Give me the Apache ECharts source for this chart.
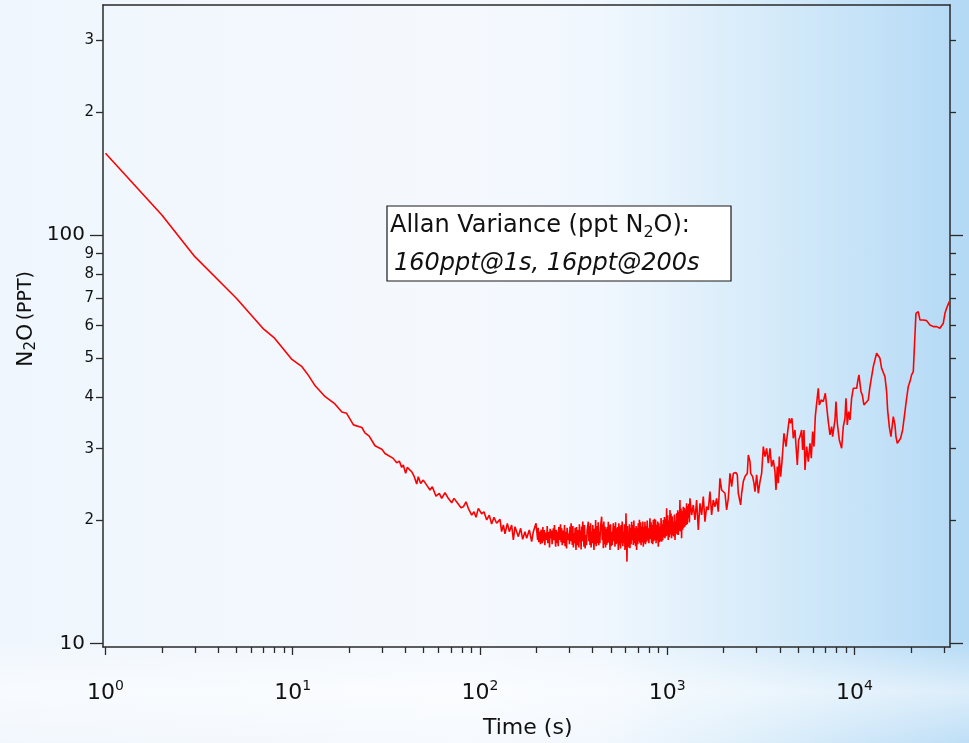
<!DOCTYPE html>
<html>
<head>
<meta charset="utf-8">
<script src="https://cdn.jsdelivr.net/npm/echarts@6/dist/echarts.min.js"></script>
<style>
html,body{margin:0;padding:0;}
#main{width:969px;height:743px;
background:
 linear-gradient(180deg, rgba(255,255,255,0) 0%, rgba(255,255,255,0) 86%, rgba(255,255,255,0.55) 93%, rgba(255,255,255,0.15) 100%),
 linear-gradient(90deg, #eff6fd 0%, #f5f9fe 48%, #f0f7fe 62%, #d8ecfa 78%, #b3d9f5 100%);}
</style>
</head>
<body>
<div id="main"></div>
<script>
// ---- data (time in s, Allan deviation in ppt) ----
const decayPoints = [
[1,158.5],[2,111.9],[3,88.5],[5,70.0],[7,58.8],[8,55.9],[9.9,49.6],[11.2,47.6],[12.1,45.4],[13.1,42.9],[14.9,40.2],
[16.8,38.6],[18.3,36.9],[19.4,36.6],[21.1,34.3],[23.4,33.8],[24.3,32.8],[25.6,32.2],[27.5,30.5],[29.9,29.9],[31.1,29.2],[34.4,28.4],
[35.90,27.70],[37.07,27.97],[38.18,26.99],[38.94,27.35],[40.10,26.10],[40.90,26.99],[43.17,26.34],[44.57,25.61],[45.91,24.57],
[46.82,25.61],[48.23,24.66],[49.79,25.13],[51.92,24.43],[54.07,23.76],[55.62,24.20],[58.21,22.96],[60.62,23.31],[62.44,22.67],
[65.02,23.40],[67.72,22.67],[70.61,22.11],[72.64,22.67],[75.65,22.11],[79.19,21.50],[81.46,21.62],[84.21,22.23],[86.62,21.43],
[90.32,20.63],[92.92,21.02],[95.23,20.37],[97.96,21.43],[102.1,20.78],[105.0,21.02],[108.6,20.07],[112.1,20.63],[115.4,19.62],
[118.8,20.37],[122.7,19.70]
];
const floorPoints = [
[127.9,20.14],[130.5,18.79],[133.3,19.51],[136.0,18.55],[140.0,19.69],[143.5,18.79],[147.6,19.51],[150.7,17.93],[153.8,19.33],
[157.0,18.79],[160.2,18.27],[164.9,19.15],[169.0,18.00],[173.9,18.79],[177.5,18.10],[183.4,18.97],[188.8,17.76],[192.7,18.79],
[199.1,19.69],[203.2,17.93],
[204.6,19.2],[206.0,17.7],[209.1,18.79],[210.5,17.5],[211.9,19.0],[215.2,17.60],[216.7,19.3],[218.2,17.8],[220.6,18.97],[222.1,17.4],
[223.6,18.7],[227.0,17.93],[228.6,19.4],[230.1,17.6],[233.6,18.79],[235.2,17.2],[236.8,19.1],[239.4,18.10],[241.1,18.9],[242.7,17.5],
[246.4,19.15],[248.1,17.9],[249.8,19.5],[253.6,17.27],[255.4,19.0],[257.1,17.6],[259.9,18.79],[261.7,17.3],[263.5,19.3],[267.4,17.93],
[269.2,19.6],[271.1,17.7],[273.0,19.15],[274.9,17.4],[276.8,18.9],[280.9,17.60],[282.8,19.5],[284.8,17.3],[287.9,18.79],[289.9,17.1],
[291.9,19.2],[296.3,17.93],[298.3,18.6],[300.4,17.5],[302.4,19.33],[304.5,17.8],[306.6,19.7],[311.2,17.43],[313.3,19.4],[315.4,17.2],
[317.7,18.62],[319.9,17.6],[322.1,19.2],[325.6,16.95],[327.8,19.3],[330.1,17.4],[335.0,18.97],[337.3,17.2],[339.6,19.6],[342.0,17.76],
[344.4,18.9],[346.7,17.0],[349.1,19.33],[351.5,17.8],[353.9,19.9],[359.2,17.27],[361.7,19.5],[364.2,17.1],[368.2,18.44],[370.7,17.4],
[373.3,18.9],[378.9,19.88],[381.5,17.8],[384.1,19.4],[386.7,17.43],[389.4,19.7],[392.1,17.2],[394.7,18.79],[397.4,17.6],[400.2,19.5],
[406.2,16.95],[409.0,19.1],[411.8,17.5],[414.6,20.07],[417.5,17.3],[420.3,19.4],[424.9,17.60],[427.8,19.8],[430.8,17.4],[433.7,18.79],
[436.7,17.6],[439.7,19.2],[446.4,20.45],[449.5,17.9],[452.6,19.6],[455.6,17.11],[458.7,19.9],[461.9,17.5],[465.0,19.33],[468.2,17.2],
[471.4,19.1],[474.7,17.43],[478.0,19.3],[481.3,17.6],[484.5,19.88],[487.8,17.7],[491.2,19.5],[494.5,16.95],[497.9,19.6],[501.3,17.3],
[504.8,18.79],[508.3,17.4],[511.8,18.6],[515.2,19.69],[518.8,17.8],[522.3,19.4],[525.9,17.27],[529.5,19.8],[533.1,17.5],[536.8,19.15],
[540.5,17.6],[544.2,19.3],[547.9,16.95],[551.7,19.7],[555.4,17.4],[559.2,19.33],[563.1,17.1],[566.9,19.5],[570.8,17.60],[574.7,19.9],
[578.6,17.3],[582.6,18.79],[586.6,17.6],[590.7,19.6],[594.7,16.95],[597.1,18.6],[599.5,17.8],[602.0,20.84],[609.5,15.87],[612.9,19.4],
[616.2,17.3],[619.6,18.79],[623.9,17.2],[628.1,19.6],[632.4,17.11],[636.8,19.2],[641.1,17.5],[645.5,19.88],[650.0,17.9],[654.4,19.5],
[658.8,17.43],[663.3,20.0],[667.9,17.6],[672.5,19.15],[677.1,17.3],[681.7,19.4],[686.4,16.95],[691.2,19.2],[695.9,17.5],[700.6,19.69],
[705.5,17.8],[710.3,20.1],[715.1,17.60],[720.0,19.8],[725.0,17.4],[729.9,19.33],[735.0,17.7],[740.0,19.9],[745.0,17.27],[750.2,19.3],
[755.3,17.6],[760.4,19.88],[765.7,17.5],[771.0,19.4],[776.2,17.76],[781.6,20.0],[786.9,17.9],[792.2,19.15],[797.7,17.6],[803.2,18.9],
[808.6,20.26],[814.2,18.0],[819.8,19.8],[825.4,17.60],[831.1,19.5],[836.8,17.5],[842.5,20.07],[848.3,17.8],[854.1,20.2],[859.9,17.93],
[865.8,20.1],[871.7,17.6],[877.7,19.51],[883.7,17.9],[889.8,19.9],[895.9,17.27],[902.1,19.7],[908.3,17.7],[914.4,19.33],[920.7,17.8],
[927.0,20.3],[933.3,17.76],[939.7,19.6],[946.2,17.9],[952.7,20.07],[959.3,18.2],[965.8,20.4],[972.4,18.10],[979.1,20.2],[985.8,18.3],
[992.5,21.43],[999.3,18.4],[1006,20.6],[1013,17.93],[1020,20.0],[1027,18.2],[1034,21.23],[1041,18.5],[1048,20.8],[1055,18.10],
[1062,20.5],[1070,18.4],[1077,19.88],[1084,18.3],[1092,20.7],[1100,17.93],[1108,19.9],[1115,18.6],[1122,20.84],[1130,18.5],
[1138,21.2],[1146,18.44],[1154,21.0],[1161,18.9],[1169,22.46],[1177,18.8],[1185,21.4],[1193,18.10],[1201,21.1],[1210,19.0],
[1218,21.63],[1226,19.2],[1235,21.5],[1243,19.33],[1252,21.3],[1260,19.5],[1269,22.04],[1278,19.6],[1286,21.7],[1295,20.26],
[1304,22.0],[1313,19.8],[1322,22.67],[1350,20.64],[1377,21.84],[1406,20.07],[1435,22.46],[1465,18.97],[1495,22.04],[1526,20.64],
[1558,22.89],[1590,19.88],[1623,21.63],[1656,21.23],[1691,23.54],[1726,20.64],[1761,22.46],[1798,21.63],[1835,22.67],[1873,21.03],
[1912,25.38]
];
const risePoints = [
[1952,23.77],[2034,23.33],[2076,21.24],[2119,22.68],[2163,26.11],[2208,24.22],[2254,26.11],[2329,26.21],[2367,25.87],[2396,23.33],
[2466,21.85],[2497,23.33],[2548,24.92],[2601,25.63],[2677,26.11],[2710,28.95],[2766,27.89],[2789,26.11],[2858,25.63],[2905,24.68],
[2941,23.55],[3002,25.87],[3064,23.33],[3128,24.92],[3193,26.11],[3259,30.35],[3326,28.68],[3395,30.06],[3465,27.63],[3537,30.06],
[3610,27.11],[3685,28.15],[3761,26.36],[3808,23.77],[3871,27.11],[3919,24.68],[3967,28.68],[4033,25.63],[4099,27.89],[4202,32.71],
[4306,30.35],[4377,32.41],[4486,35.60],[4560,34.61],[4636,35.60],[4712,31.81],[4810,33.33],[4869,30.63],[4950,27.37],[5032,31.51],
[5115,32.11],[5221,33.33],[5285,29.78],[5373,33.33],[5439,26.61],[5552,30.35],[5667,27.89],[5784,30.92],[5880,28.42],[5977,33.02],
[6075,30.35],[6176,35.94],[6278,38.74],[6408,42.16],[6487,38.38],[6648,39.48],[6814,39.11],[6984,40.99],[7157,41.37],[7246,34.94],
[7396,32.41],[7549,33.97],[7642,32.11],[7865,35.27],[7962,39.11],[8094,34.61],[8295,31.51],[8536,30.06],[8713,33.97],[8893,35.60],
[9004,39.85],[9153,34.29],[9304,36.96],[9457,35.27],[9653,39.85],[9852,42.16],[10056,41.76],[10265,42.16],[10435,44.18],[10564,45.45],
[10694,45.88],[10827,41.37],[11006,40.60],[11234,38.38],[11513,38.38],[11848,39.48],[12093,42.56],[12343,45.02],[12599,47.63],[12859,49.46],
[13126,51.35],[13397,51.35],[13674,49.92],[13958,47.19],[14247,46.75],[14542,45.02],[14843,41.37],[15027,37.31],[15338,33.97],[15656,32.11],
[15980,32.11],[16112,35.94],[16445,34.29],[16649,32.11],[16924,30.92],[17345,31.21],[17632,31.81],[18070,33.33],[18597,36.96],[18982,39.85],
[19376,42.56],[19776,43.77],[20186,45.45],[20604,46.31],[21031,46.75],[21291,64.33],[21911,64.94],[22365,61.96],[22828,62.54],[23301,61.96],
[24274,61.72],[25290,60.24],[26347,59.67],[27450,59.67],[28597,59.11],[29189,59.67],[29794,60.80],[30411,64.33],[31040,66.17],[32075,68.70]
];

// ---- axes ----
const xRange = [0.97, 32360];
const yRange = [9.81, 365.5];
const xMajorTicks = [1, 10, 100, 1000, 10000];
const xMajorExponents = ['0', '1', '2', '3', '4'];
const xMinorTicks = [2,3,4,5,6,7,8,9, 20,30,40,50,60,70,80,90, 200,300,400,500,600,700,800,900,
  2000,3000,4000,5000,6000,7000,8000,9000, 20000,30000];
const yMajorTicks = [10, 100];
const yMajorLabels = ['10', '100'];
const yMinorTicks = [20,30,40,50,60,70,80,90,200,300];
const yMinorLabels = ['2','3','4','5','6','7','8','9','2','3'];

const xTitle = 'Time (s)';
const noteLine1 = ['Allan Variance (ppt N', '2', 'O):'];
const noteLine2 = '160ppt@1s, 16ppt@200s';

const FONT = 'DejaVu Sans';
const FRAME = '#2a2a2a';

function idx(arr, v) {
  for (let i = 0; i < arr.length; i++) if (Math.abs(arr[i] - v) / arr[i] < 1e-6) return i;
  return -1;
}

const seriesData = decayPoints.concat(floorPoints, risePoints);

const chart = echarts.init(document.getElementById('main'), null, {renderer: 'canvas'});
const lineStyleAxis = {color: FRAME, width: 1.5};
const baseX = {type: 'log', logBase: 10, min: xRange[0], max: xRange[1], splitLine: {show: false}};
const baseY = {type: 'log', logBase: 10, min: yRange[0], max: yRange[1], splitLine: {show: false}};

chart.setOption({
  animation: false,
  backgroundColor: 'transparent',
  grid: {left: 103, right: 19, top: 5, bottom: 96, containLabel: false},
  xAxis: [
    Object.assign({}, baseX, {
      position: 'bottom',
      axisLine: {show: true, lineStyle: lineStyleAxis},
      axisTick: {show: true, customValues: xMajorTicks, length: 8, lineStyle: {color: FRAME, width: 1.3}},
      axisLabel: {
        show: true, customValues: xMajorTicks, margin: 32, color: '#111',
        formatter: function (v) { const i = idx(xMajorTicks, v); return '{b|10}{s|' + xMajorExponents[i] + '}'; },
        rich: {
          b: {fontFamily: FONT, fontSize: 22, lineHeight: 28, color: '#111'},
          s: {fontFamily: FONT, fontSize: 14, lineHeight: 10, verticalAlign: 'top', color: '#111'}
        }
      }
    }),
    Object.assign({}, baseX, {
      position: 'bottom',
      axisLine: {show: false},
      axisTick: {show: true, customValues: xMinorTicks, length: 6, lineStyle: {color: FRAME, width: 1.3}},
      axisLabel: {show: false}
    }),
    Object.assign({}, baseX, {
      position: 'top',
      axisLine: {show: true, lineStyle: lineStyleAxis},
      axisTick: {show: false},
      axisLabel: {show: false}
    })
  ],
  yAxis: [
    Object.assign({}, baseY, {
      position: 'left',
      axisLine: {show: true, lineStyle: lineStyleAxis},
      axisTick: {show: true, customValues: yMajorTicks, length: 13, lineStyle: {color: FRAME, width: 1.3}},
      axisLabel: {
        show: true, customValues: yMajorTicks, margin: 18, color: '#111',
        fontFamily: FONT, fontSize: 20,
        formatter: function (v) { return yMajorLabels[idx(yMajorTicks, v)]; }
      }
    }),
    Object.assign({}, baseY, {
      position: 'left',
      axisLine: {show: false},
      axisTick: {show: true, customValues: yMinorTicks, length: 7, lineStyle: {color: FRAME, width: 1.3}},
      axisLabel: {
        show: true, customValues: yMinorTicks, margin: 9, color: '#111',
        fontFamily: FONT, fontSize: 15,
        formatter: function (v) { return yMinorLabels[idx(yMinorTicks, v)]; }
      }
    }),
    Object.assign({}, baseY, {
      position: 'right',
      axisLine: {show: true, lineStyle: lineStyleAxis},
      axisTick: {show: true, customValues: yMajorTicks, length: 13, lineStyle: {color: FRAME, width: 1.3}},
      axisLabel: {show: false}
    }),
    Object.assign({}, baseY, {
      position: 'right',
      axisLine: {show: false},
      axisTick: {show: true, customValues: yMinorTicks, length: 6, lineStyle: {color: FRAME, width: 1.3}},
      axisLabel: {show: false}
    })
  ],
  series: [{
    type: 'line',
    xAxisIndex: 0,
    yAxisIndex: 0,
    data: seriesData,
    showSymbol: false,
    symbol: 'none',
    smooth: false,
    lineStyle: {color: '#ff0000', width: 1.6},
    z: 5
  }],
  graphic: [
    {
      type: 'text', left: 483, top: 717,
      style: {text: xTitle, fontFamily: FONT, fontSize: 22, fill: '#111'}
    },
    {
      type: 'text', x: 26, y: 319, rotation: Math.PI / 2,
      style: {
        text: '{a|N}{s|2}{a|O} {b|(PPT)}',
        align: 'center', verticalAlign: 'middle', textAlign: 'center', textVerticalAlign: 'middle',
        rich: {
          a: {fontFamily: FONT, fontSize: 22, lineHeight: 26, fill: '#111', color: '#111'},
          s: {fontFamily: FONT, fontSize: 15, lineHeight: 14, verticalAlign: 'bottom', fill: '#111', color: '#111'},
          b: {fontFamily: FONT, fontSize: 19, lineHeight: 26, fill: '#111', color: '#111'}
        }
      }
    },
    {
      type: 'rect', shape: {x: 387, y: 206, width: 344, height: 75},
      style: {fill: '#ffffff', stroke: '#1a1a1a', lineWidth: 1.2}, z: 10
    },
    {
      type: 'text', x: 390, y: 211, z: 11,
      style: {
        text: '{a|' + noteLine1[0] + '}{s|' + noteLine1[1] + '}{a|' + noteLine1[2] + '}',
        rich: {
          a: {fontFamily: FONT, fontSize: 24, lineHeight: 30, fill: '#111', color: '#111'},
          s: {fontFamily: FONT, fontSize: 16, lineHeight: 14, verticalAlign: 'bottom', fill: '#111', color: '#111'}
        }
      }
    },
    {
      type: 'text', x: 394, y: 252, z: 11,
      style: {text: noteLine2, fontFamily: FONT, fontSize: 24, fontStyle: 'italic', fill: '#111'}
    }
  ]
});
</script>
</body>
</html>
